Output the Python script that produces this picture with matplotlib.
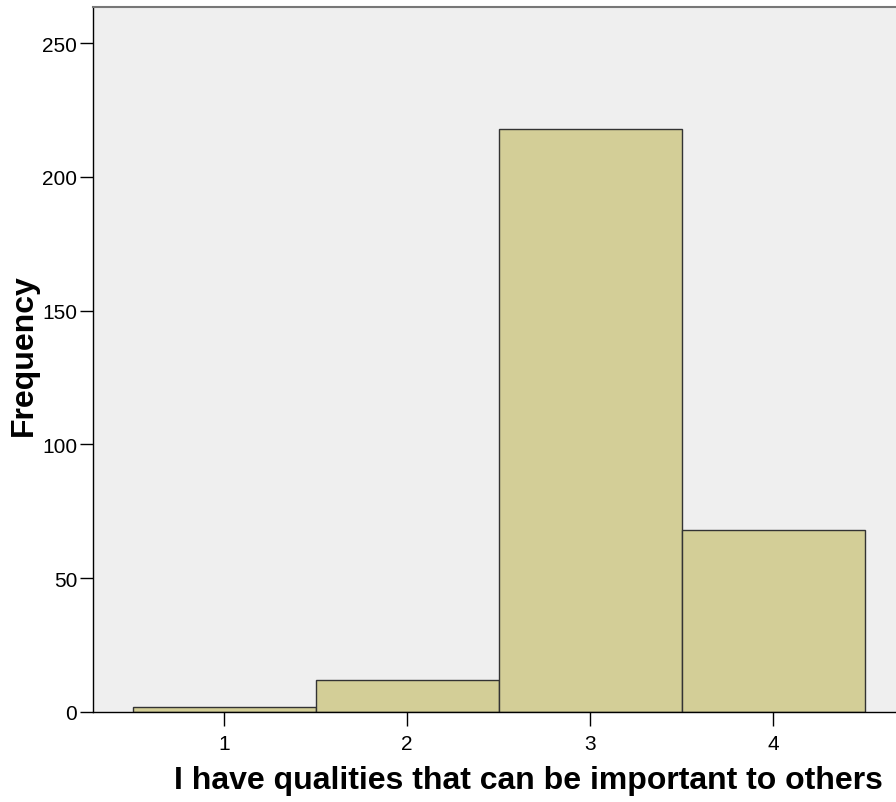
import matplotlib
matplotlib.use("Agg")
import matplotlib.pyplot as plt

categories = [1, 2, 3, 4]
frequencies = [2, 12, 218, 68]
xticks = [1, 2, 3, 4]
yticks = [0, 50, 100, 150, 200, 250]

plt.rcParams['font.family'] = ['Liberation Sans', 'DejaVu Sans']

fig = plt.figure(figsize=(8.96, 8.03), dpi=100)
ax = fig.add_axes([93/896, 90/803, 1 - 93/896, (713-8)/803])
ax.set_facecolor('#EFEFEF')
ax.bar(categories, frequencies, width=1.0, color='#D3CE97', edgecolor='#333333', linewidth=1.0, zorder=2)

ax.set_xlim(0.284, 4.672)
ax.set_ylim(0, 263.5)
ax.set_xticks(xticks)
ax.set_yticks(yticks)
ax.tick_params(axis='y', direction='out', length=9.4, width=1, labelsize=15, color='black', pad=2)
ax.tick_params(axis='x', direction='out', length=10, width=1, labelsize=15, color='black', pad=6)

for s in ['left', 'bottom']:
    ax.spines[s].set_color('black')
    ax.spines[s].set_linewidth(1)
ax.spines['top'].set_color('#777777')
ax.spines['top'].set_linewidth(1.5)
ax.spines['right'].set_visible(False)

ax.set_xlabel('I have qualities that can be important to others', fontsize=23, fontweight='bold', va='center')
ax.xaxis.set_label_coords((528-93)/803, (713-781)/705)
ax.set_ylabel('Frequency', fontsize=23, fontweight='bold', va='center')
ax.yaxis.set_label_coords((24-93)/803, (713-355)/705)

fig.savefig('out.png', dpi=100)
